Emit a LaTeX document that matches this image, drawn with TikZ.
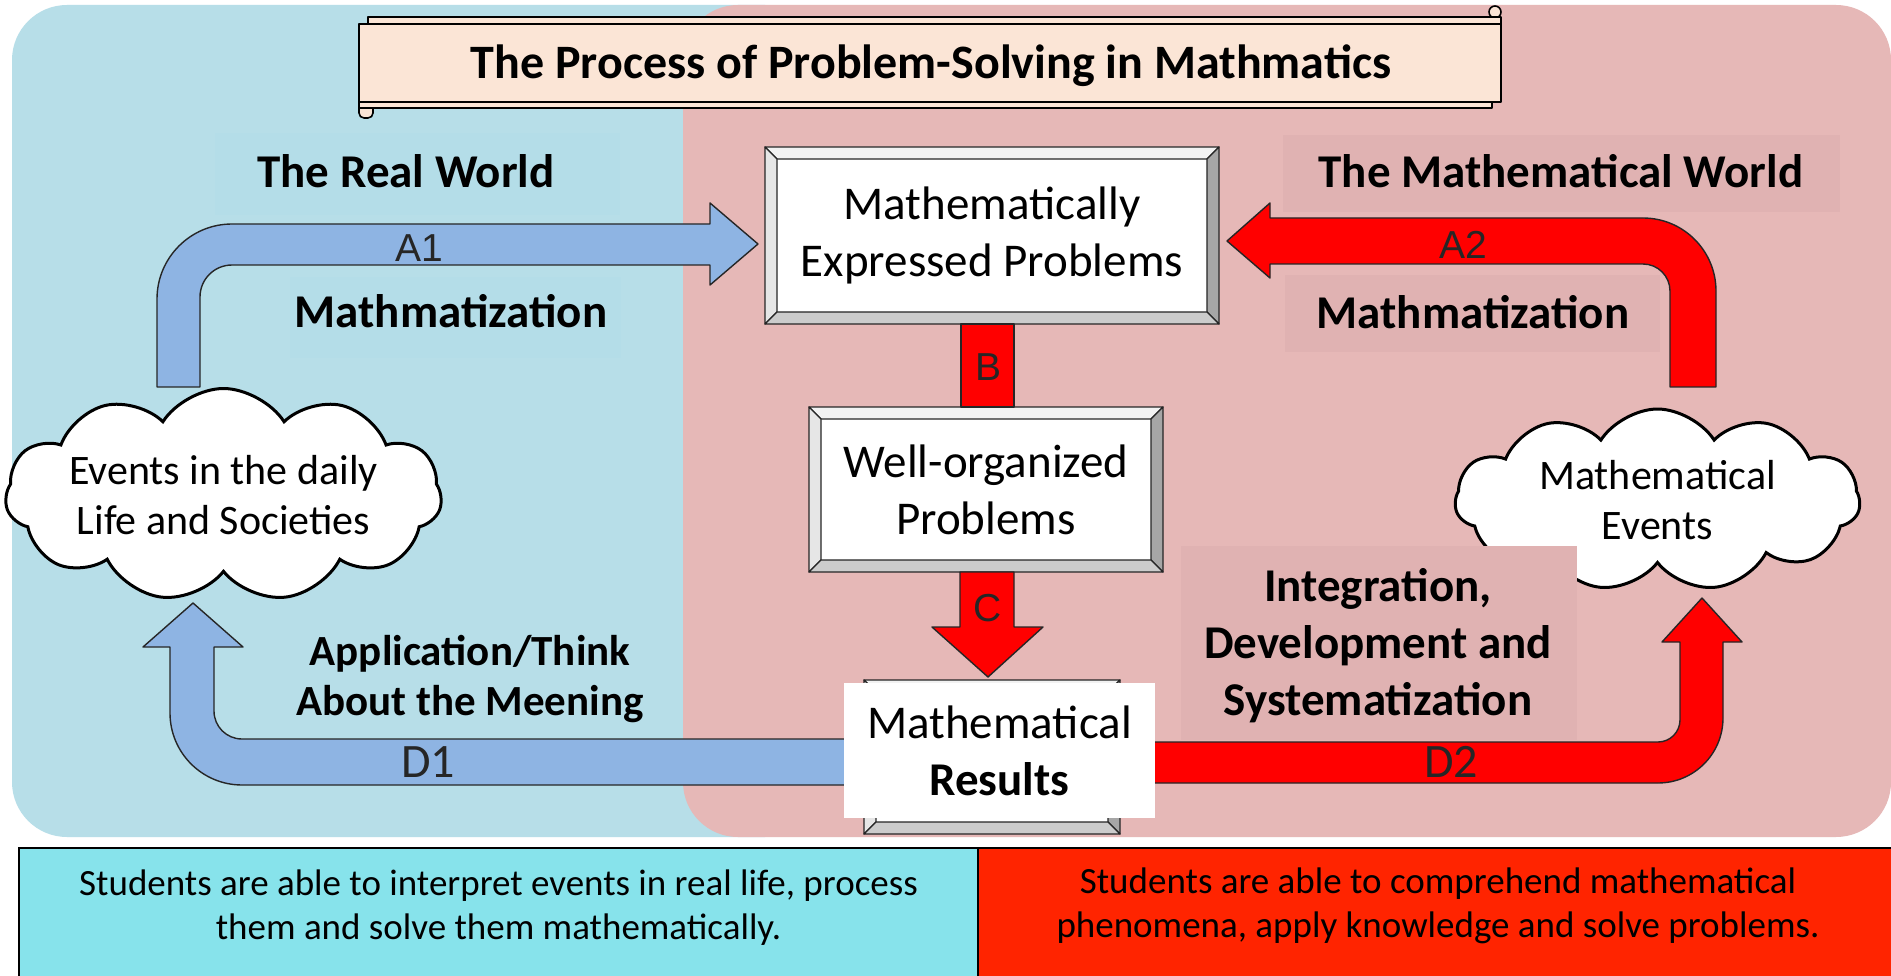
\documentclass[tikz,border=0pt]{standalone}
\usepackage{fontspec}
\setmainfont{Carlito}
\newfontfamily\arialfont{Liberation Sans}
\usepackage{tikz}
\usetikzlibrary{shapes.symbols}

% bevelled frame round a named node
\newcommand{\bevel}[1]{%
  \path[bevedge,fill=bevtop] (#1.north west) -- (#1.north east) -- ([xshift=-12pt,yshift=-12pt]#1.north east) -- ([xshift=12pt,yshift=-12pt]#1.north west) -- cycle;
  \path[bevedge,fill=bevleft] (#1.north west) -- ([xshift=12pt,yshift=-12pt]#1.north west) -- ([xshift=12pt,yshift=12pt]#1.south west) -- (#1.south west) -- cycle;
  \path[bevedge,fill=bevright] (#1.north east) -- (#1.south east) -- ([xshift=-12pt,yshift=12pt]#1.south east) -- ([xshift=-12pt,yshift=-12pt]#1.north east) -- cycle;
  \path[bevedge,fill=bevbot] (#1.south west) -- ([xshift=12pt,yshift=12pt]#1.south west) -- ([xshift=-12pt,yshift=12pt]#1.south east) -- (#1.south east) -- cycle;
}

\begin{document}
\begin{tikzpicture}[x=1pt,y=-1pt,
  bevedge/.style={draw=black!85,line width=1.3pt,line join=round},
  face/.style={fill=white,draw=none,inner sep=0pt,outer sep=0pt,align=center,font=\fontsize{47}{57}\selectfont},
  cloudy/.style={cloud,cloud puffs=11,cloud puff arc=115,cloud ignores aspect,draw=black,line width=3pt,fill=white,align=center,inner sep=0pt,font=\fontsize{42}{50}\selectfont},
  heading/.style={font=\bfseries\fontsize{47}{57}\selectfont,align=center,inner sep=0pt},
  blockarrow/.style={draw=black!85,line width=1.4pt,line join=round},
  arrlabel/.style={font=\arialfont\fontsize{39}{39}\selectfont,text=black!85,anchor=base,inner sep=0pt},
  bottext/.style={font=\fontsize{37}{44}\selectfont,align=center,inner sep=0pt},
  scrolledge/.style={draw=black,line width=1.6pt,line join=round}]
\definecolor{panelblue}{HTML}{B7DEE8}
\definecolor{panelpink}{HTML}{E6B8B7}
\definecolor{labelblue}{HTML}{B4DDE8}
\definecolor{labelpink}{HTML}{E0B2B2}
\definecolor{scroll}{HTML}{FBE5D6}
\definecolor{arrowblue}{HTML}{8EB4E3}
\definecolor{arrowred}{HTML}{FF0000}
\definecolor{bevtop}{HTML}{F2F2F2}
\definecolor{bevleft}{HTML}{E6E6E6}
\definecolor{bevright}{HTML}{A6A6A6}
\definecolor{bevbot}{HTML}{CCCCCC}
\definecolor{botblue}{HTML}{87E3EB}
\definecolor{botred}{HTML}{FF2400}
\useasboundingbox (0,0) rectangle (1891,976);
\clip (0,0) rectangle (1891,976);
\fill[white] (0,0) rectangle (1891,976);

% Two worlds
\fill[panelblue,rounded corners=55pt] (12,5) rectangle (820,837);
\fill[panelpink,rounded corners=55pt] (683,5) rectangle (1891,837);

% Label backgrounds
\fill[labelblue] (215,133) rectangle (620,215);
\fill[labelblue] (290,277) rectangle (621,358);
\fill[labelpink] (1283,135) rectangle (1840,212);
\fill[labelpink] (1285,275) rectangle (1660,352);

% Title scroll
\draw[scrolledge,fill=scroll] (1495,12) circle[radius=6];
\draw[scrolledge,fill=scroll] (368,17) rectangle (1501,24);
\draw[scrolledge,fill=scroll,rounded corners=5pt] (359,96) rectangle (373,118);
\draw[scrolledge,fill=scroll] (359,102) rectangle (1492,108);
\draw[scrolledge,fill=scroll] (359,24) rectangle (1501,102);
\node[font=\bfseries\fontsize{48}{48}\selectfont,anchor=base,inner sep=0pt] (title) at (931,79) {The Process of Problem-Solving in Mathmatics};

% Headings
\node[heading,anchor=base] (realworld) at (406,188) {The Real World};
\node[heading,anchor=base] (mathzL) at (451,328) {Mathmatization};
\node[heading,anchor=base] (mathworld) at (1561,188) {The Mathematical World};
\node[heading,anchor=base] (mathzR) at (1473,329) {Mathmatization};
\node[heading,font=\bfseries\fontsize{43}{50}\selectfont] (apply) at (470,679) {Application/Think\\About the Meening};

% Block arrows A1 and A2
\draw[blockarrow,fill=arrowblue] (157,387) -- (157,299) .. controls (157,257.6) and (190.6,224) .. (232,224) -- (710,224) -- (710,203) -- (758,244) -- (710,285) -- (710,265) -- (232,265) .. controls (214.3,265) and (200,279.3) .. (200,297) -- (200,387) -- cycle;
\draw[blockarrow,fill=arrowred] (1716,387) -- (1716,291) .. controls (1716,250.7) and (1683.3,218) .. (1643,218) -- (1270,218) -- (1270,203) -- (1227,241) -- (1270,278) -- (1270,264) -- (1643,264) .. controls (1657.9,264) and (1670,276.1) .. (1670,291) -- (1670,387) -- cycle;

% Block arrows D1 and D2
\draw[blockarrow,fill=arrowblue] (850,739) -- (242,739) .. controls (226.5,739) and (214,726.5) .. (214,711) -- (214,647) -- (243,647) -- (193,603) -- (143,647) -- (170,647) -- (170,713) .. controls (170,752.8) and (202.2,785) .. (242,785) -- (850,785) -- cycle;
\draw[blockarrow,fill=arrowred] (1150,742) -- (1658,742) .. controls (1670.1,742) and (1680,732.1) .. (1680,720) -- (1680,642) -- (1662,642) -- (1702,598) -- (1742,642) -- (1723,642) -- (1723,718) .. controls (1723,753.9) and (1693.9,783) .. (1658,783) -- (1150,783) -- cycle;

% Problem boxes
\node[face,minimum width=454pt,minimum height=177pt] (expr) at (992,235.5) {Mathematically\\Expressed Problems};
\bevel{expr}
\node[face,minimum width=354pt,minimum height=165pt] (wellorg) at (986,489.5) {Well-organized\\Problems};
\bevel{wellorg}
\node[face,minimum width=256pt,minimum height=154pt] (resbev) at (992,757) {};
\bevel{resbev}

% Arrows B and C
\draw[blockarrow,fill=arrowred] (961,0 |- expr.south) rectangle (1014,0 |- wellorg.north);
\draw[blockarrow,fill=arrowred] (960,0 |- wellorg.south) -- (960,627) -- (932,627) -- (988,677) -- (1043,627) -- (1014,627) -- (1014,0 |- wellorg.south) -- cycle;

% Clouds
\node[cloudy,minimum width=427pt,minimum height=213pt] (daily) at (223.5,495) {Events in the daily\\Life and Societies};
\node[cloudy,minimum width=405pt,minimum height=182pt] (mevents) at (1657.5,500) {Mathematical\\Events};

% Integration label covers the cloud
\fill[labelpink] (1181,546) rectangle (1577,740);
\node[heading] (integ) at (1378,645.5) {Integration,\\Development and\\Systematization};

% Results
\node[face,minimum width=311pt,minimum height=135pt] (results) at (999.5,750.5) {Mathematical\\\textbf{Results}};

% Arrow letters
\node[arrlabel] (la1) at (419,262) {A1};
\node[arrlabel] (la2) at (1463,259) {A2};
\node[arrlabel] (lb) at (988,381) {B};
\node[arrlabel] (lc) at (988,621) {C};
\node[arrlabel,font=\fontsize{48}{48}\selectfont] (ld1) at (428,777) {D1};
\node[arrlabel,font=\fontsize{48}{48}\selectfont] (ld2) at (1451,777) {D2};

% Outcomes
\draw[line width=2pt,fill=botblue] (19,848) rectangle (978,990);
\draw[line width=2pt,fill=botred] (978,848) rectangle (1900,990);
\node[bottext] (outL) at (498.5,908) {Students are able to interpret events in real life, process\\them and solve them mathematically.};
\node[bottext] (outR) at (1438,906) {Students are able to comprehend mathematical\\phenomena, apply knowledge and solve problems.};
\end{tikzpicture}
\end{document}
